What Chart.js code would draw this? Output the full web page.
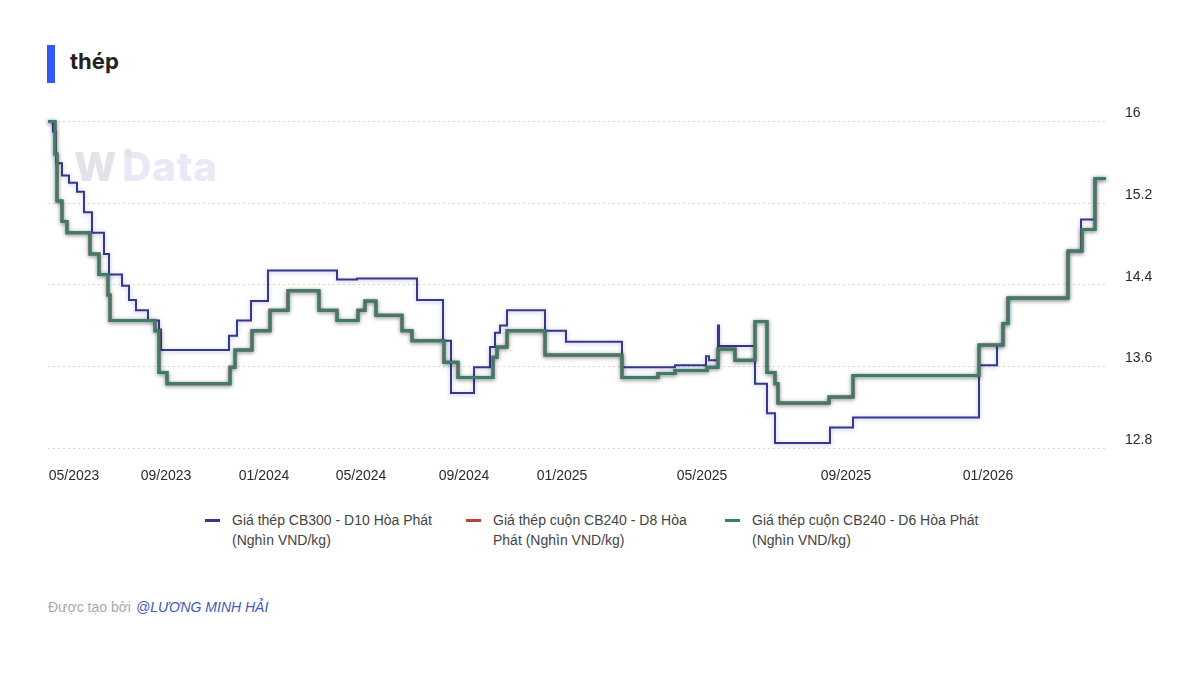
<!DOCTYPE html>
<html>
<head>
<meta charset="utf-8">
<script src="https://cdn.jsdelivr.net/npm/chart.js@4.4.1/dist/chart.umd.min.js"></script>
<style>
  html, body { margin: 0; padding: 0; background: #fff; }
  body { width: 1200px; height: 686px; position: relative; overflow: hidden; font-family: "Liberation Sans", Arial, sans-serif; }
  .bar { position: absolute; left: 47px; top: 45px; width: 8px; height: 38px; background: #3358f4; }
  .title { position: absolute; left: 70px; top: 48px; font: 700 22px Inter, "Liberation Sans", sans-serif; color: #222; }
  .mark { position: absolute; left: 74px; top: 142px; font: 800 40px Inter, sans-serif; letter-spacing: 1px; white-space: nowrap; }
  .mark .w { color: #e2e2e8; }
  .mark .dot { position: absolute; left: 50px; top: 7px; width: 8px; height: 8px; border-radius: 50%; background: #e2e2e8; }
  .mark .d { color: #e8e8f6; margin-left: 5px; }
  #wrap { position: absolute; left: 0; top: 94px; width: 1200px; height: 406px; }
  #legend { position: absolute; top: 510px; left: 0; width: 1200px; }
  .item { position: absolute; top: 0; font-size: 14px; line-height: 20px; color: #444; }
  .item i { position: absolute; left: -27px; top: 9px; width: 15px; height: 3px; }
  .foot { position: absolute; left: 48px; top: 599px; font-size: 14px; color: #a8a8ac; }
  .foot span { color: #4458b8; font-style: italic; margin-left: 5px; }
</style>
</head>
<body>
<div class="bar"></div>
<div class="title">thép</div>
<div class="mark"><span class="w">W</span><span class="dot"></span><span class="d">Data</span></div>
<div id="wrap"><canvas id="myChart"></canvas></div>
<div id="legend"></div>
<div class="foot">Được tạo bởi<span>@LƯƠNG MINH HẢI</span></div>

<script>
// step positions (index along the axis) and prices, nghìn VND/kg
var cb300X = [0, 1, 1.6, 2.8, 4.2, 5.8, 7.2, 8.8, 11.2, 12.2, 14.8, 16.2, 17.6, 20, 22.2, 22.6,
	36.2, 37.8, 40.6, 44, 57.8, 61.8, 73.8, 79, 80.6, 85.2, 88.4, 89.4, 90.4, 91.8, 99.4, 103.6,
	114.8, 125.4, 131.6, 132.2, 133.6, 134, 134.2, 141.4, 143.8, 145.4, 156.4, 161, 186.2, 189.8,
	191, 192, 204, 206.6, 209.4, 211.6];
var cb300Y = [16.0, 15.9, 15.59, 15.47, 15.40, 15.31, 15.11, 14.91, 14.70, 14.50, 14.39, 14.25, 14.15, 14.05, 13.96, 13.76,
	13.90, 14.05, 14.24, 14.54, 14.45, 14.46, 14.25, 13.85, 13.34, 13.59, 13.79, 13.93, 14.0, 14.15, 13.95, 13.84,
	13.59, 13.61, 13.70, 13.66, 13.66, 14.0, 13.80, 13.43, 13.14, 12.85, 13.0, 13.10, 13.61, 13.81,
	14.02, 14.27, 14.73, 15.04, 15.44, 15.44];

var d6X = [0, 1.4, 1.8, 2.8, 3.8, 8.4, 10.2, 12, 12.4, 21.4, 22.2, 23.8, 36.4, 37.4, 40.8, 44.4,
	48, 54.2, 57.8, 62, 63.4, 65.6, 70.8, 72.8, 79.2, 82, 89, 89.8, 91.8, 99.4, 114.8, 122,
	125.4, 131.8, 134, 137.4, 141.4, 143.8, 145.4, 146, 156.2, 161, 186.2, 191, 192, 204,
	206.8, 209.4, 211.6];
var d6Y = [16.0, 15.68, 15.22, 15.02, 14.91, 14.70, 14.50, 14.30, 14.05, 13.95, 13.54, 13.43, 13.59, 13.76, 13.95, 14.15,
	14.34, 14.15, 14.05, 14.15, 14.24, 14.10, 13.95, 13.85, 13.64, 13.49, 13.69, 13.79, 13.95, 13.71, 13.49, 13.53,
	13.56, 13.59, 13.77, 13.66, 14.04, 13.54, 13.43, 13.24, 13.30, 13.51, 13.81, 14.02, 14.27, 14.73,
	14.94, 15.44, 15.44];

// D8 runs on the same prices as D6 (hidden under it)
var d8X = d6X;
var d8Y = d6Y;

var xTickPos = [5.2, 23.6, 43.2, 62.6, 83.2, 102.8, 130.8, 159.6, 188];
var xTickLabels = ["05/2023", "09/2023", "01/2024", "05/2024", "09/2024", "01/2025", "05/2025", "09/2025", "01/2026"];
var yTicks = [12.8, 13.6, 14.4, 15.2, 16];

var seriesNames = [
	"Giá thép CB300 - D10 Hòa Phát (Nghìn VND/kg)",
	"Giá thép cuộn CB240 - D8 Hòa Phát (Nghìn VND/kg)",
	"Giá thép cuộn CB240 - D6 Hòa Phát (Nghìn VND/kg)"
];

function points(xs, ys) {
	return xs.map(function(x, i) { return {x: x, y: ys[i]}; });
}

var glow = {
	id: "glow",
	beforeDatasetDraw: function(chart, args) {
		var ds = chart.data.datasets[args.index];
		if (ds.glow) {
			chart.ctx.save();
			chart.ctx.shadowColor = ds.glow;
			chart.ctx.shadowBlur = 4;
			chart.ctx.shadowOffsetY = 1;
		}
	},
	afterDatasetDraw: function(chart, args) {
		if (chart.data.datasets[args.index].glow) chart.ctx.restore();
	}
};

var ctx = document.getElementById("myChart");

var data = {
	datasets: [
		{ label: seriesNames[0], data: points(cb300X, cb300Y), borderColor: "#36388c", borderWidth: 2, order: 2, glow: "rgba(70,70,170,0.35)" },
		{ label: seriesNames[1], data: points(d8X, d8Y), borderColor: "#c0413b", borderWidth: 3, order: 1 },
		{ label: seriesNames[2], data: points(d6X, d6Y), borderColor: "#3d7c6c", borderWidth: 3, order: 0, glow: "rgba(0,20,10,0.6)" }
	]
};

var myChart = new Chart(ctx, {
	type: "line",
	data: data,
	options: {
		responsive: true,
		maintainAspectRatio: false,
		animation: false,
		layout: { padding: { left: 48, top: 16, right: 0, bottom: 0 } },
		elements: {
			point: { radius: 0 },
			line: { stepped: "before", tension: 0 }
		},
		datasets: { line: { clip: false } },
		plugins: { legend: { display: false }, tooltip: { enabled: false } },
		scales: {
			x: {
				type: "linear",
				min: 0,
				max: 211.6,
				afterBuildTicks: function(s) { s.ticks = xTickPos.map(function(v) { return {value: v}; }); },
				afterFit: function(s) { s.height = 52; },
				grid: { display: false, drawTicks: false },
				border: { display: false },
				ticks: {
					autoSkip: false,
					maxRotation: 0,
					padding: 20,
					color: "#2a2a2a",
					font: { family: "Liberation Sans", size: 14 },
					callback: function(v, i) { return xTickLabels[i]; }
				}
			},
			y: {
				position: "right",
				min: 12.8,
				max: 16,
				afterBuildTicks: function(s) { s.ticks = yTicks.map(function(v) { return {value: v}; }); },
				afterFit: function(s) { s.width = 94; },
				grid: { color: "#d6d6d6", lineWidth: 1, drawTicks: false },
				border: { display: false, dash: [2, 3] },
				ticks: {
					padding: 19,
					labelOffset: -8,
					color: "#2a2a2a",
					font: { family: "Liberation Sans", size: 14 },
					callback: function(v, i) { return String(yTicks[i]); }
				}
			}
		}
	},
	plugins: [glow]
});

// legend below the chart, in dataset order
var legendPos = [{left: 232, width: 218}, {left: 493, width: 206}, {left: 752, width: 245}];
var legend = document.getElementById("legend");
myChart.data.datasets.forEach(function(ds, i) {
	var el = document.createElement("div");
	el.className = "item";
	el.style.left = legendPos[i].left + "px";
	el.style.width = legendPos[i].width + "px";
	el.innerHTML = '<i style="background:' + ds.borderColor + '"></i>' + ds.label;
	legend.appendChild(el);
});
</script>
</body>
</html>
